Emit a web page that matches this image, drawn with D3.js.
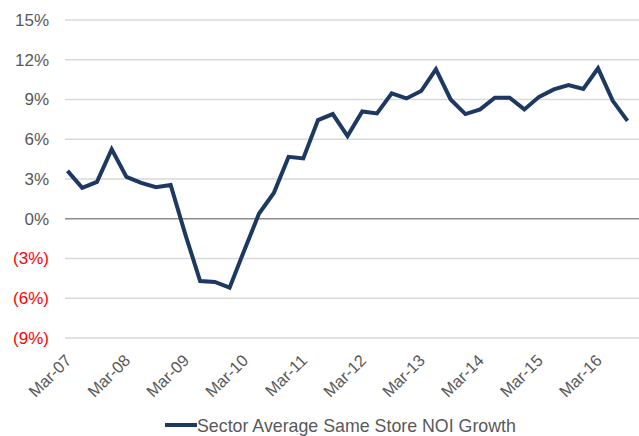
<!DOCTYPE html>
<html>
<head>
<meta charset="utf-8">
<script src="https://cdn.jsdelivr.net/npm/d3@7"></script>
<style>
  body { margin: 0; background: #fff; }
  svg { display: block; font-family: "Liberation Sans", Arial, sans-serif; }
</style>
</head>
<body>
<svg id="chart" width="639" height="436"></svg>
<script>
const categories = [
  "Mar-07","Jun-07","Sep-07","Dec-07","Mar-08","Jun-08","Sep-08","Dec-08",
  "Mar-09","Jun-09","Sep-09","Dec-09","Mar-10","Jun-10","Sep-10","Dec-10",
  "Mar-11","Jun-11","Sep-11","Dec-11","Mar-12","Jun-12","Sep-12","Dec-12",
  "Mar-13","Jun-13","Sep-13","Dec-13","Mar-14","Jun-14","Sep-14","Dec-14",
  "Mar-15","Jun-15","Sep-15","Dec-15","Mar-16","Jun-16","Sep-16"
];
const noiGrowth = [
  3.61, 2.33, 2.78, 5.25, 3.16, 2.71, 2.38, 2.55,
  -1.2, -4.70, -4.77, -5.20, -2.37, 0.39, 1.95, 4.67,
  4.55, 7.45, 7.90, 6.24, 8.10, 7.95, 9.46, 9.08,
  9.64, 11.28, 9.00, 7.90, 8.25, 9.13, 9.13, 8.25,
  9.20, 9.76, 10.09, 9.79, 11.35, 8.90, 7.39
];
const xTickLabels = ["Mar-07","Mar-08","Mar-09","Mar-10","Mar-11","Mar-12","Mar-13","Mar-14","Mar-15","Mar-16"];
const yTicks = [-9, -6, -3, 0, 3, 6, 9, 12, 15];
const seriesName = "Sector Average Same Store NOI Growth";

const svg = d3.select("#chart");
const plotLeft = 65, plotRight = 639;
const yScale = d3.scaleLinear().domain([-9, 15]).range([338, 20]);
const xScale = d3.scalePoint().domain(categories).range([67.5, 627.5]);

// gridlines
svg.append("g").selectAll("line")
  .data(yTicks.filter(d => d !== 0))
  .join("line")
  .attr("x1", plotLeft).attr("x2", plotRight)
  .attr("y1", d => yScale(d)).attr("y2", d => yScale(d))
  .attr("stroke", "#d9d9d9").attr("stroke-width", 1.3);

// y axis labels
const fmt = d => d < 0 ? `(${-d}%)` : `${d}%`;
const yAxis = d3.axisLeft(yScale).tickValues(yTicks).tickFormat(fmt).tickSize(0).tickPadding(0);
const yg = svg.append("g").attr("transform", "translate(49,0)").call(yAxis);
yg.select(".domain").remove();
yg.selectAll("text")
  .attr("font-size", 17)
  .attr("font-family", "Liberation Sans, Arial, sans-serif")
  .attr("fill", d => d < 0 ? "#ff0000" : "#595959");

// zero line
svg.append("line")
  .attr("x1", plotLeft).attr("x2", plotRight)
  .attr("y1", yScale(0)).attr("y2", yScale(0))
  .attr("stroke", "#8c8c8c").attr("stroke-width", 1.3);

// x axis labels
const xAxis = d3.axisBottom(xScale).tickValues(xTickLabels).tickSize(0).tickPadding(0);
const xg = svg.append("g").attr("transform", "translate(0,353)").call(xAxis);
xg.select(".domain").remove();
xg.selectAll("text")
  .attr("font-size", 16.5)
  .attr("font-family", "Liberation Sans, Arial, sans-serif")
  .attr("fill", "#595959")
  .attr("text-anchor", "end")
  .attr("y", 0)
  .attr("dy", "0.72em")
  .attr("transform", "translate(-4,0) rotate(-45)");

// line
const line = d3.line()
  .x((d, i) => xScale(categories[i]))
  .y(d => yScale(d));
svg.append("path")
  .datum(noiGrowth)
  .attr("d", line)
  .attr("fill", "none")
  .attr("stroke", "#1d3861")
  .attr("stroke-width", 4)
  .attr("stroke-linejoin", "miter");

// legend
const lg = svg.append("g");
lg.append("line")
  .attr("x1", 165).attr("x2", 197)
  .attr("y1", 425).attr("y2", 425)
  .attr("stroke", "#1d3861").attr("stroke-width", 4);
lg.append("text")
  .attr("x", 197).attr("y", 431.5)
  .attr("font-size", 17.8)
  .attr("fill", "#595959")
  .text(seriesName);
</script>
</body>
</html>
